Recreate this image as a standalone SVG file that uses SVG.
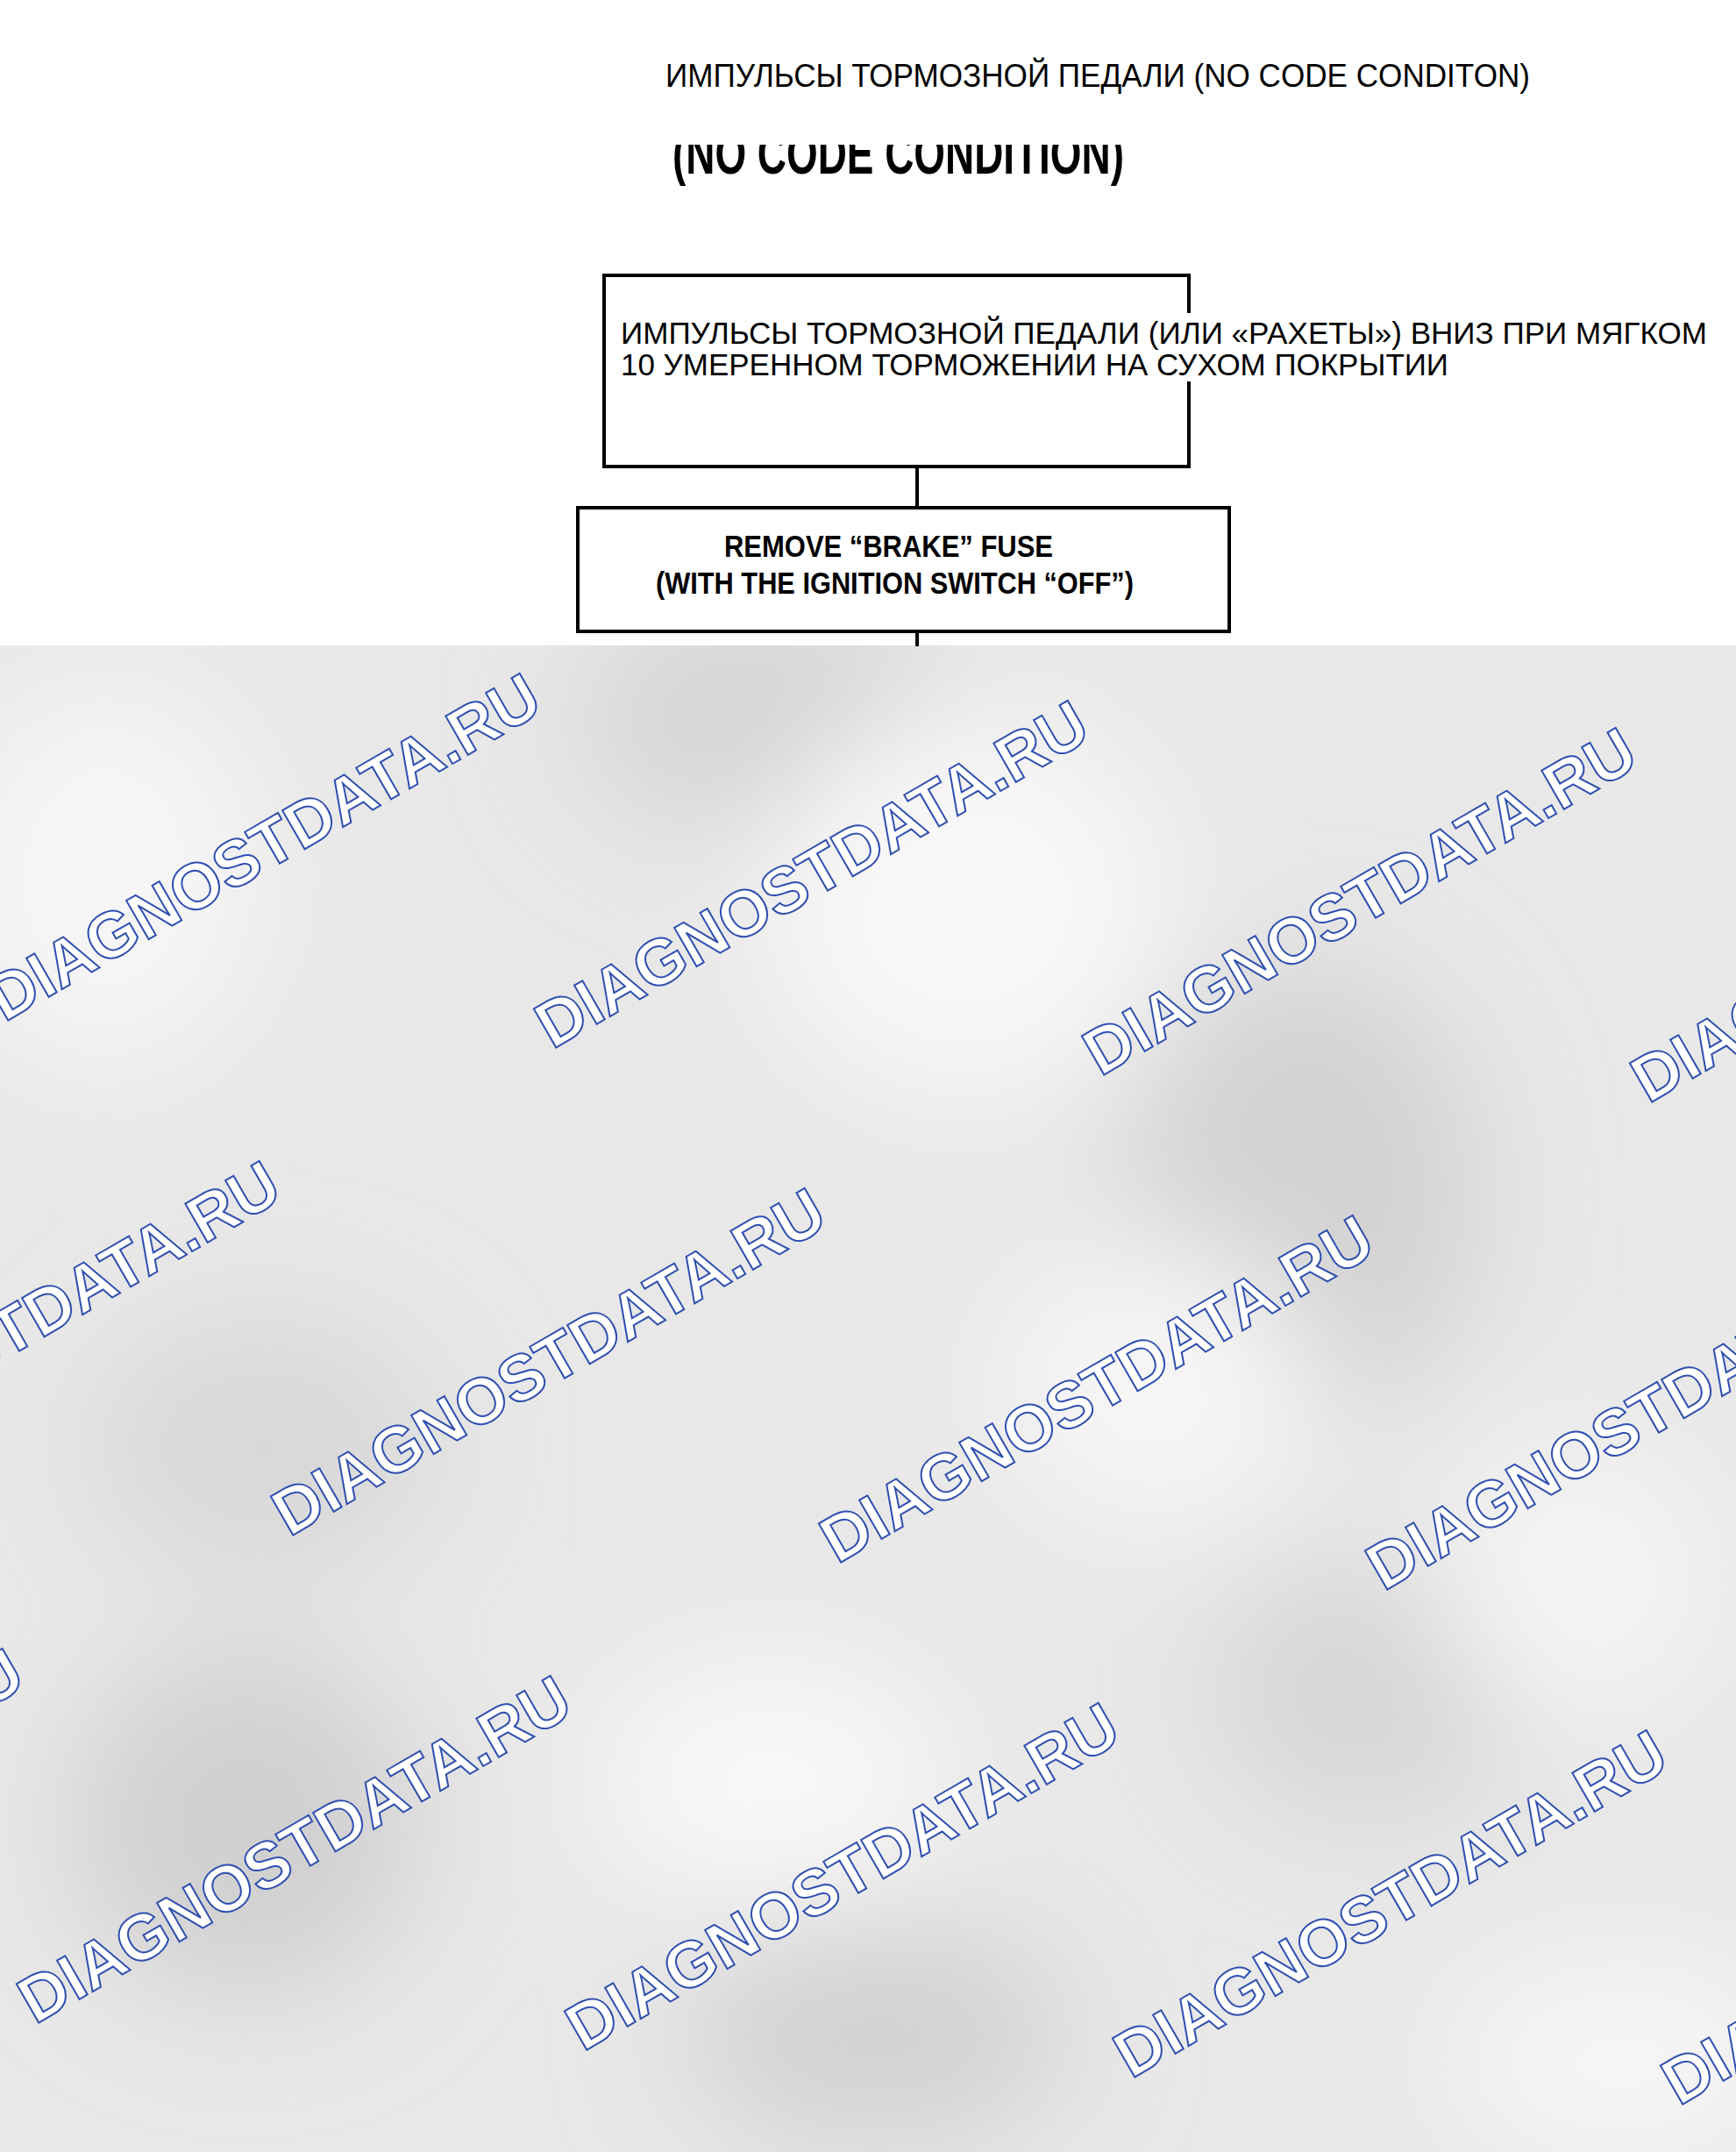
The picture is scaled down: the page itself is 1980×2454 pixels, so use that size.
<svg xmlns="http://www.w3.org/2000/svg" width="1980" height="2454" viewBox="0 0 1980 2454">
<style>
.box{fill:#fff;stroke:#000;stroke-width:4}
.conn{stroke:#000;stroke-width:4;fill:none}
.t{font-family:"Liberation Sans",Arial,sans-serif;fill:#000}
.cond{font-family:"Liberation Sans",Arial,sans-serif;font-weight:bold;fill:#000}
.wm{font-family:"Liberation Sans",Arial,sans-serif;font-weight:bold;font-size:74px;fill:#fff;stroke:#2f4fb0;stroke-width:2}
</style>
<defs>
<filter id="blur" x="-50%" y="-50%" width="200%" height="200%"><feGaussianBlur stdDeviation="70"/></filter>
<clipPath id="bgclip"><rect x="0" y="736" width="1980" height="1718"/></clipPath>
<clipPath id="cut"><rect x="700" y="165" width="700" height="60"/></clipPath>
</defs>
<rect x="0" y="0" width="1980" height="2454" fill="#fff"/>
<g id="background" clip-path="url(#bgclip)">
<rect x="0" y="736" width="1980" height="1718" fill="#e8e8e8"/>
<g filter="url(#blur)">
<ellipse cx="880" cy="820" rx="220" ry="130" fill="#d4d4d4"/>
<ellipse cx="1490" cy="1360" rx="200" ry="260" fill="#d2d2d2"/>
<ellipse cx="300" cy="1650" rx="200" ry="150" fill="#d8d8d8"/>
<ellipse cx="280" cy="2080" rx="200" ry="200" fill="#d0d0d0"/>
<ellipse cx="1000" cy="2320" rx="220" ry="130" fill="#d2d2d2"/>
<ellipse cx="1560" cy="1930" rx="180" ry="150" fill="#d6d6d6"/>
<ellipse cx="1100" cy="1030" rx="230" ry="220" fill="#f8f8f8"/>
<ellipse cx="1320" cy="1580" rx="180" ry="160" fill="#f6f6f6"/>
<ellipse cx="880" cy="2030" rx="200" ry="140" fill="#f8f8f8"/>
<ellipse cx="1800" cy="1800" rx="160" ry="160" fill="#f4f4f4"/>
<ellipse cx="120" cy="1000" rx="180" ry="220" fill="#f6f6f6"/>
<ellipse cx="1850" cy="2350" rx="200" ry="120" fill="#f6f6f6"/>
</g>
<g id="watermarks">
<text class="wm" transform="translate(5,1166) rotate(-30)">DIAGNOSTDATA.RU</text>
<text class="wm" transform="translate(630,1197) rotate(-30)">DIAGNOSTDATA.RU</text>
<text class="wm" transform="translate(1255,1228) rotate(-30)">DIAGNOSTDATA.RU</text>
<text class="wm" transform="translate(1880,1259) rotate(-30)">DIAGNOSTDATA.RU</text>
<text class="wm" transform="translate(-292,1722) rotate(-30)">DIAGNOSTDATA.RU</text>
<text class="wm" transform="translate(330,1753) rotate(-30)">DIAGNOSTDATA.RU</text>
<text class="wm" transform="translate(955,1784) rotate(-30)">DIAGNOSTDATA.RU</text>
<text class="wm" transform="translate(1578,1815) rotate(-30)">DIAGNOSTDATA.RU</text>
<text class="wm" transform="translate(-585,2278) rotate(-30)">DIAGNOSTDATA.RU</text>
<text class="wm" transform="translate(40,2309) rotate(-30)">DIAGNOSTDATA.RU</text>
<text class="wm" transform="translate(665,2340) rotate(-30)">DIAGNOSTDATA.RU</text>
<text class="wm" transform="translate(1290,2371) rotate(-30)">DIAGNOSTDATA.RU</text>
<text class="wm" transform="translate(1915,2402) rotate(-30)">DIAGNOSTDATA.RU</text>
</g>
</g>
<g id="title">
<text class="t" x="759" y="99" font-size="36" textLength="986" lengthAdjust="spacingAndGlyphs">ИМПУЛЬСЫ ТОРМОЗНОЙ ПЕДАЛИ (NO CODE CONDITON)</text>
<text class="cond" x="767" y="198" font-size="66" textLength="515" lengthAdjust="spacingAndGlyphs" clip-path="url(#cut)">(NO CODE CONDITION)</text>
</g>
<g id="connectors">
<line class="conn" x1="1046" y1="532" x2="1046" y2="579"/>
<line class="conn" x1="1046" y1="720" x2="1046" y2="737"/>
</g>
<g id="node1">
<rect class="box" x="689" y="314" width="667" height="218"/>
<rect x="696" y="357" width="1262" height="78" fill="#fff"/>
<text class="t" x="708" y="392" font-size="35" textLength="1239" lengthAdjust="spacingAndGlyphs">ИМПУЛЬСЫ ТОРМОЗНОЙ ПЕДАЛИ (ИЛИ «РАХЕТЫ») ВНИЗ ПРИ МЯГКОМ</text>
<text class="t" x="708" y="428" font-size="35" textLength="944" lengthAdjust="spacingAndGlyphs">10 УМЕРЕННОМ ТОРМОЖЕНИИ НА СУХОМ ПОКРЫТИИ</text>
</g>
<g id="node2">
<rect class="box" x="659" y="579" width="743" height="141"/>
<text class="cond" x="826" y="635" font-size="35" textLength="375" lengthAdjust="spacingAndGlyphs">REMOVE “BRAKE” FUSE</text>
<text class="cond" x="748" y="677" font-size="35" textLength="545" lengthAdjust="spacingAndGlyphs">(WITH THE IGNITION SWITCH “OFF”)</text>
</g>
</svg>
